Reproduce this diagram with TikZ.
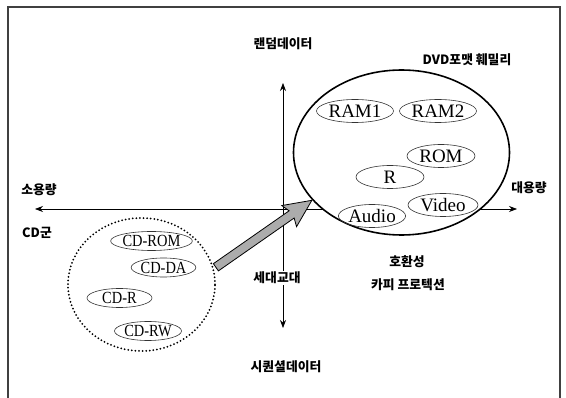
\documentclass[tikz,border=0pt]{standalone}
\usepackage{fontspec}
\setmainfont{Liberation Serif}
\newfontfamily\kr{Noto Sans CJK KR}
\usetikzlibrary{arrows.meta,shapes.geometric,shapes.arrows,calc}
\begin{document}
\begin{tikzpicture}[x=1pt,y=-1pt,
  lbl/.style={font=\kr\bfseries\fontsize{12.8}{14}\selectfont, inner sep=1pt},
  fmt/.style={ellipse, draw=black!80, line width=0.6pt, inner sep=0pt,
              minimum height=23pt, font=\fontsize{19}{21}\selectfont},
  cdfmt/.style={fmt, minimum height=19pt, font=\fontsize{17}{19}\selectfont},
  axis/.style={line width=0.7pt,
               {Stealth[length=8pt,width=6pt]}-{Stealth[length=8pt,width=6pt]}},
]
\useasboundingbox (0,0) rectangle (566,398);
% frame, open at the bottom
\draw[line width=1.4pt, black!75] (8,398) -- (8,7) -- (560,7) -- (560,398);

% axes
\coordinate (axL) at (35,209);
\coordinate (axR) at (517,209);
\coordinate (axT) at (283,83);
\coordinate (axB) at (283,328);
\draw[axis] (axL) -- (axR);
\draw[axis] (axB) -- (axT);

% DVD family
\node[ellipse, draw, fill=white, line width=1.6pt, minimum width=216pt,
      minimum height=165pt] (dvd) at (401.5,152.5) {};
\node[fmt, minimum width=77pt] (ram1) at (355,111) {RAM1};
\node[fmt, minimum width=77pt] (ram2) at (438,111) {RAM2};
\node[fmt, minimum width=68pt] (rom) at (441,156) {ROM};
\node[fmt, minimum width=68pt] (r) at (390,177) {R};
\node[fmt, minimum width=70pt] (video) at (443,205) {Video};
\node[fmt, minimum width=66pt] (audio) at (372,216) {Audio};

% CD family
\node[ellipse, draw, line width=2pt, dash pattern=on 0pt off 3.6pt,
      line cap=round, minimum width=147pt, minimum height=133pt] (cd) at (141.5,284.5) {};
\node[cdfmt, minimum width=73pt] (cdrom) at (151.5,241) {\scalebox{0.85}[1]{CD-ROM}};
\node[cdfmt, minimum width=64pt] (cdda) at (163.5,267.5) {\scalebox{0.85}[1]{CD-DA}};
\node[cdfmt, minimum width=65pt] (cdr) at (119.5,298) {\scalebox{0.85}[1]{CD-R}};
\node[cdfmt, minimum width=67pt] (cdrw) at (148,331) {\scalebox{0.85}[1]{CD-RW}};

% generation change arrow
\coordinate (tail) at (212,270);
\coordinate (tip) at (308,203);
\path let \p1=($(tip)-(tail)$), \n1={atan2(\y1,\x1)}, \n2={veclen(\x1,\y1)} in
  node[single arrow, draw=black, line width=0.8pt, fill=gray!65,
       inner xsep=0pt, inner ysep=4pt, minimum height=\n2,
       single arrow head extend=8.5pt, single arrow tip angle=50,
       single arrow head indent=3pt, rotate=\n1] (gen) at ($(tail)!0.5!(tip)$) {};

% labels
\node[lbl] (random) at (283,44) {랜덤데이터};
\node[lbl] (family) at (467,60) {DVD포맷 훼밀리};
\node[lbl] (small) at (39,190) {소용량};
\node[lbl] (large) at (529,188) {대용량};
\node[lbl] (cdgroup) at (37,233) {CD군};
\node[lbl, fill=white] (change) at (277,278) {세대교대};
\node[lbl] (compat) at (407,262) {호환성};
\node[lbl] (copy) at (408,285) {카피 프로텍션};
\node[lbl] (seq) at (286,367) {시퀀셜데이터};
\end{tikzpicture}
\end{document}
